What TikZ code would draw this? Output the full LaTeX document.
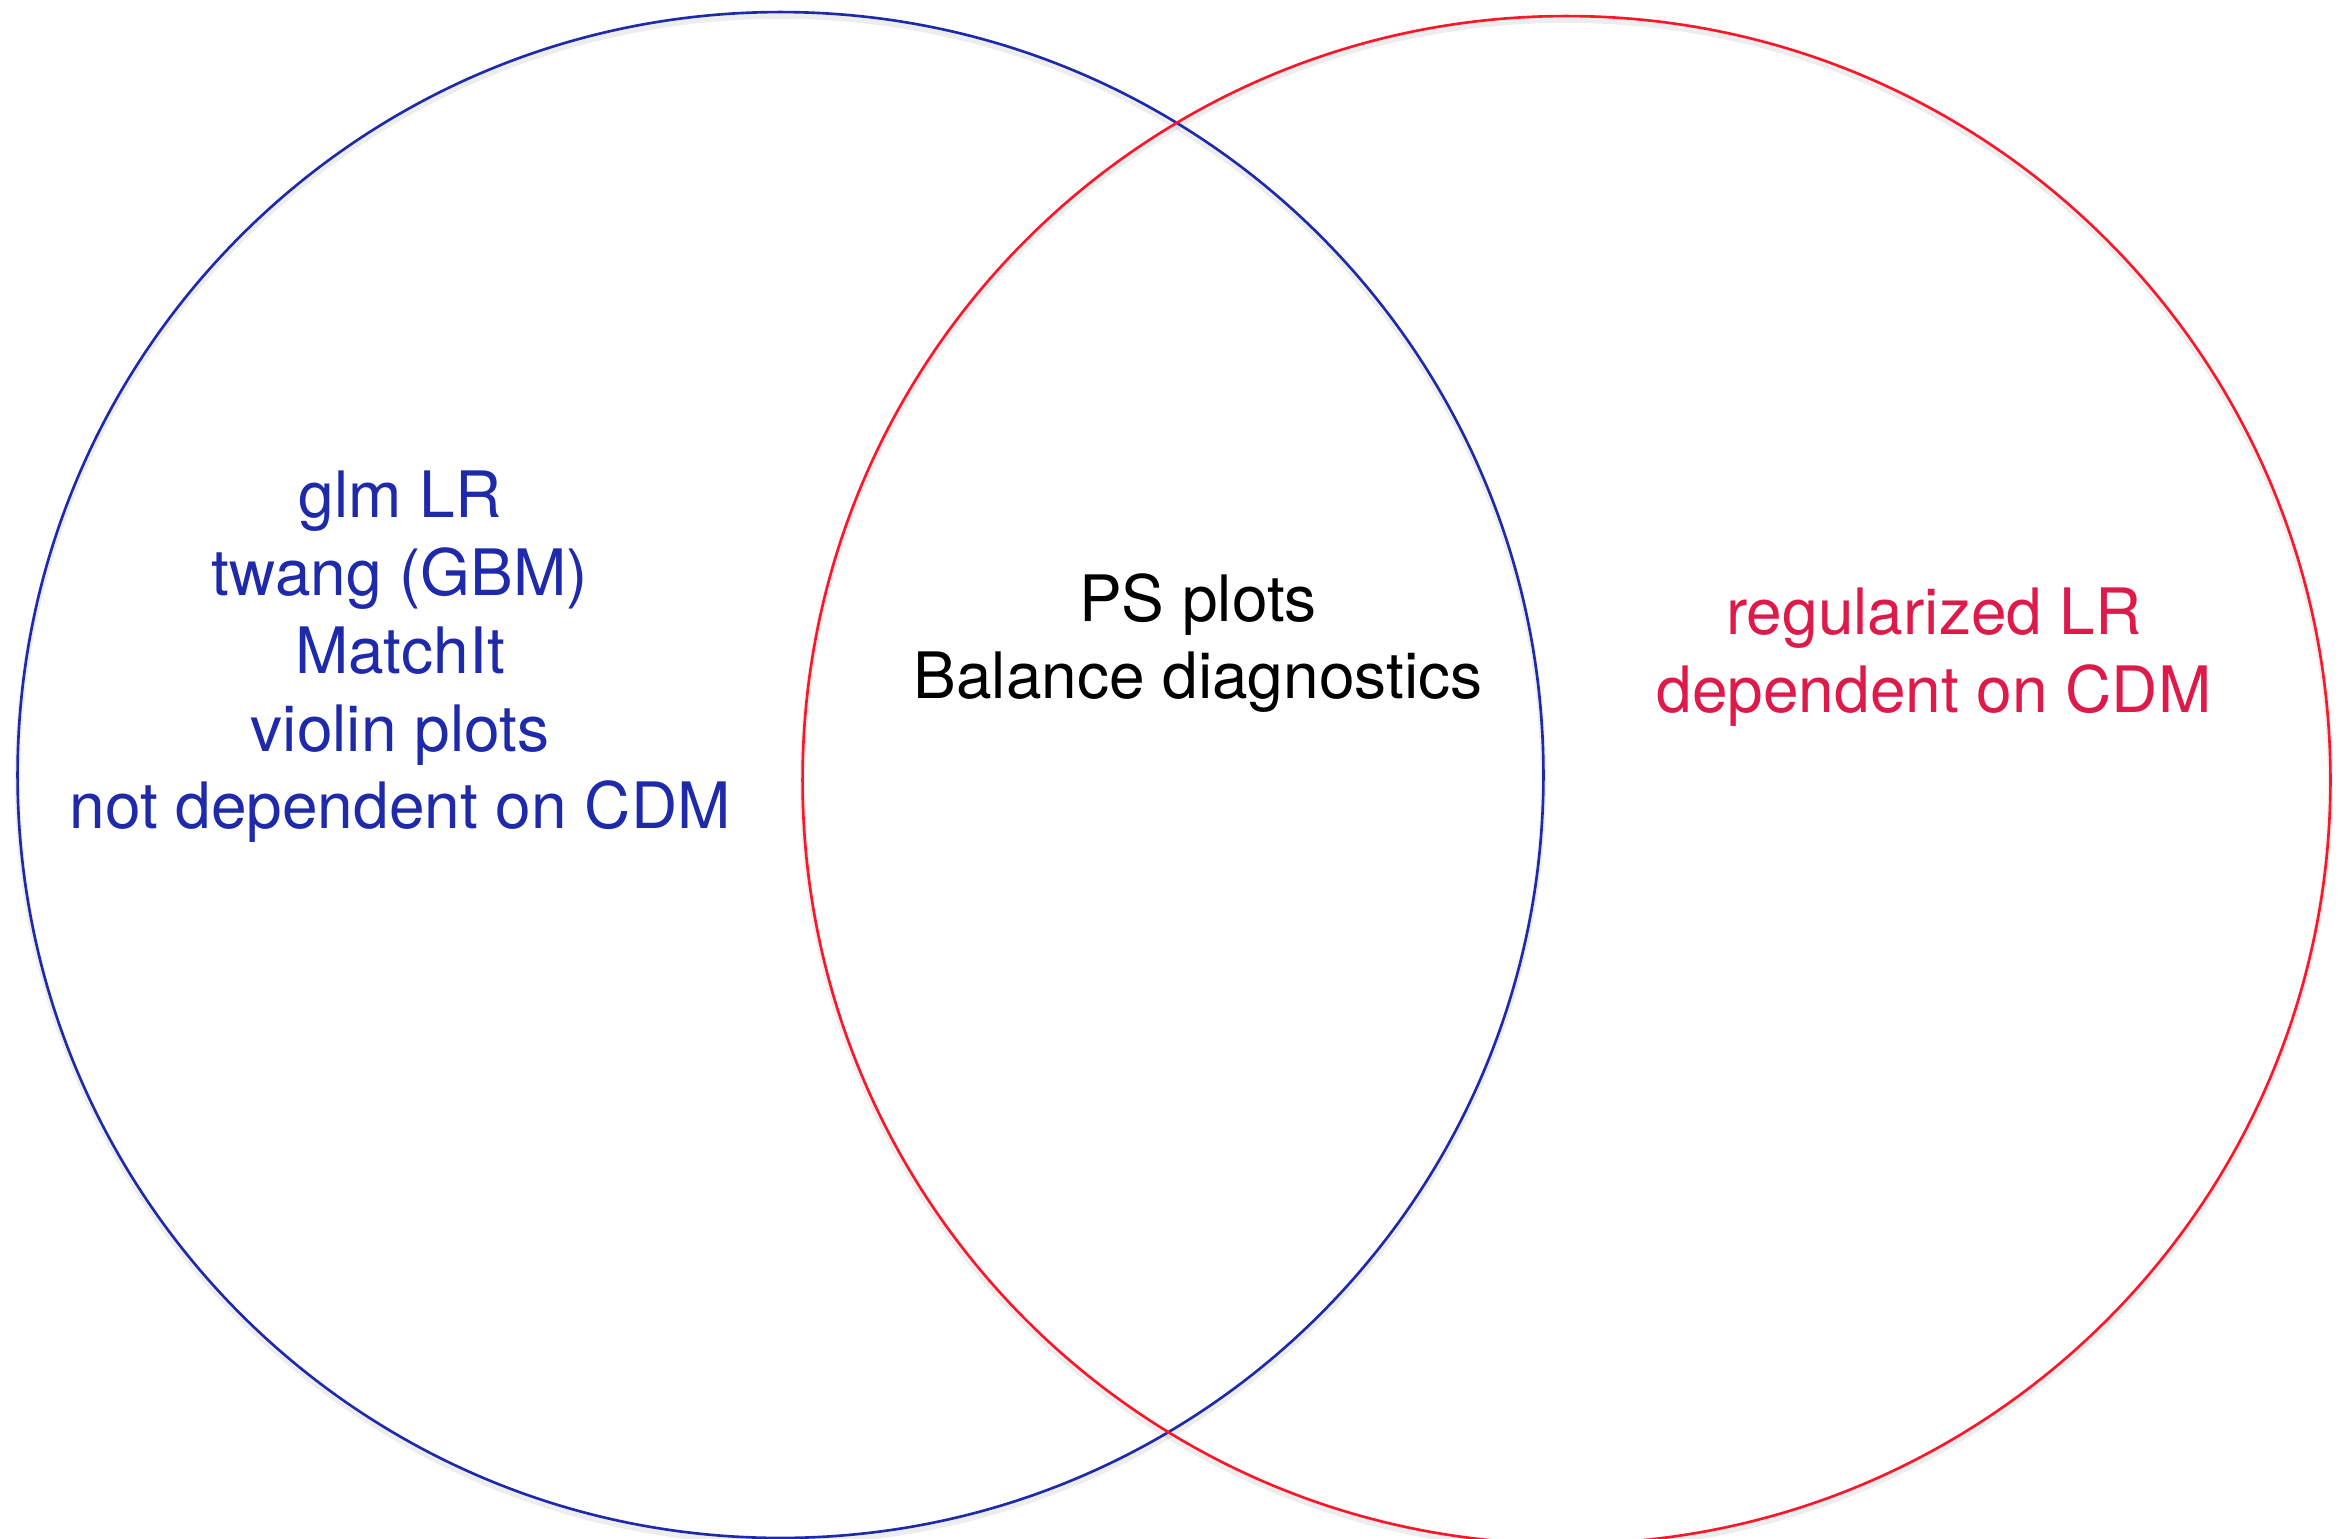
\documentclass[tikz,border=0pt]{standalone}
\usepackage{fontspec}
\setmainfont{TeX Gyre Heros}
\definecolor{setblue}{RGB}{30,42,170}
\definecolor{setred}{RGB}{252,22,42}
\definecolor{setredtext}{RGB}{222,26,74}
\tikzset{
  setcircle/.style={line width=0.75pt},
  setshadow/.style={draw=black, line width=1.6pt, opacity=0.07},
  setlabel/.style={align=center, inner sep=0pt,
    font=\fontsize{18.2}{22.1}\selectfont},
}
\begin{document}
\begin{tikzpicture}[x=0.01cm, y=-0.01cm]
  \useasboundingbox[fill=white] (0,0) rectangle (2344,1539);
  % soft shadows under the two rings
  \draw[setshadow] (780.5,779) circle [radius=7.625cm];
  \draw[setshadow] (1566.5,784) circle [radius=7.635cm];
  % the two sets
  \draw[setcircle, draw=setblue] (780.5,775) circle [radius=7.625cm];
  \draw[setcircle, draw=setred] (1566.5,780) circle [radius=7.635cm];
  % set contents
  \node[setlabel, text=setblue] (left) at (400,657)
    {glm LR\\twang (GBM)\\MatchIt\\violin plots\\not dependent on CDM};
  \node[setlabel, text=black] (both) at (1198,643)
    {PS plots\\Balance diagnostics};
  \node[setlabel, text=setredtext] (right) at (1934,657)
    {regularized LR\\dependent on CDM};
\end{tikzpicture}
\end{document}
